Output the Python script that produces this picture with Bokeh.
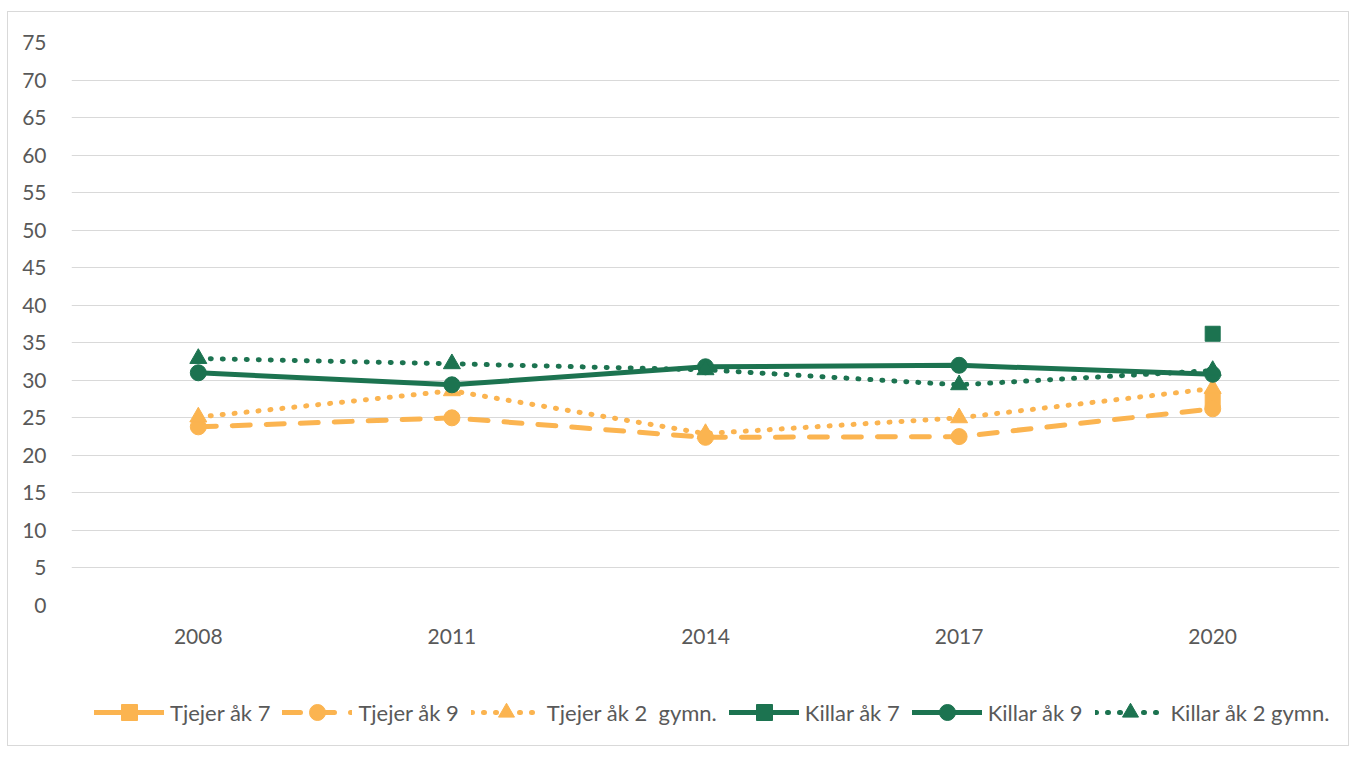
from bokeh.plotting import figure
from bokeh.layouts import column
from bokeh.models import ColumnDataSource, Range1d, Legend, LegendItem, SingleIntervalTicker, FactorRange
from bokeh.embed import file_html
from bokeh.resources import INLINE

nan = float("nan")
years = ["2008", "2011", "2014", "2017", "2020"]
tjejer_ak7 = [nan, nan, nan, nan, 27.5]
tjejer_ak9 = [23.8, 25.0, 22.4, 22.5, 26.2]
tjejer_gy2 = [25.1, 28.6, 22.9, 25.0, 28.9]
killar_ak7 = [nan, nan, nan, nan, 36.2]
killar_ak9 = [31.0, 29.4, 31.8, 32.0, 30.8]
killar_gy2 = [32.9, 32.2, 31.4, 29.4, 31.3]

ORANGE = "#FBB450"
GREEN = "#1C7350"
FONT = "Lato"
TXT = "#595959"
W = 1340

p = figure(x_range=FactorRange(*years), y_range=Range1d(0, 75),
           width=W, height=653, output_backend="svg", toolbar_location=None,
           min_border_left=63, min_border_right=9, min_border_top=30, min_border_bottom=60)
p.outline_line_color = None
p.xgrid.grid_line_color = None
p.ygrid.grid_line_color = "#d9d9d9"
p.ygrid.grid_line_width = 1
p.yaxis.ticker = SingleIntervalTicker(interval=5)
for ax in (p.xaxis[0], p.yaxis[0]):
    ax.axis_line_color = None
    ax.major_tick_line_color = None
    ax.minor_tick_line_color = None
    ax.major_label_text_font = FONT
    ax.major_label_text_font_size = "21px"
    ax.major_label_text_color = TXT
p.yaxis.major_label_standoff = 19
p.xaxis.major_label_standoff = 17

# legend-only figure (ranges keep its copies of the data out of view)
lg = figure(x_range=FactorRange(*years), y_range=Range1d(1000, 1001),
            width=W, height=80, output_backend="svg", toolbar_location=None,
            x_axis_location=None, y_axis_location=None,
            min_border=0, min_border_left=0, min_border_right=0,
            min_border_top=0, min_border_bottom=0)
lg.outline_line_color = None
lg.grid.grid_line_color = None

series = [
    ("Tjejer åk 7", tjejer_ak7, ORANGE, "solid", "square"),
    ("Tjejer åk 9", tjejer_ak9, ORANGE, "18 16", "circle"),
    ("Tjejer åk 2  gymn.", tjejer_gy2, ORANGE, "1 11", "triangle"),
    ("Killar åk 7", killar_ak7, GREEN, "solid", "square"),
    ("Killar åk 9", killar_ak9, GREEN, "solid", "circle"),
    ("Killar åk 2 gymn.", killar_gy2, GREEN, "1 11", "triangle"),
]

items = []
for name, vals, col, dash, marker in series:
    size = {"square": 15, "circle": 16, "triangle": 17}[marker]
    src = ColumnDataSource(dict(x=years, y=vals))
    p.line("x", "y", source=src, line_color=col, line_width=5, line_dash=dash, line_cap="round")
    p.scatter("x", "y", source=src, marker=marker, size=size, fill_color=col, line_color=col)
    r1 = lg.line("x", "y", source=src, line_color=col, line_width=5, line_dash=dash, line_cap="round")
    r2 = lg.scatter("x", "y", source=src, marker=marker, size=size, fill_color=col, line_color=col)
    items.append(LegendItem(label=name, renderers=[r1, r2]))

legend = Legend(items=items, orientation="horizontal", location=(23, 13),
                glyph_width=70, glyph_height=40, label_standoff=6, spacing=12,
                label_text_font=FONT, label_text_font_size="22px", label_text_color=TXT,
                background_fill_alpha=0, border_line_color=None, padding=0, margin=0)
lg.add_layout(legend, "center")

layout = column(p, lg, spacing=0)
layout.styles = {"border": "1px solid #d9d9d9", "margin-left": "7px", "margin-top": "11px"}

open("out.html", "w").write(file_html(layout, INLINE))
